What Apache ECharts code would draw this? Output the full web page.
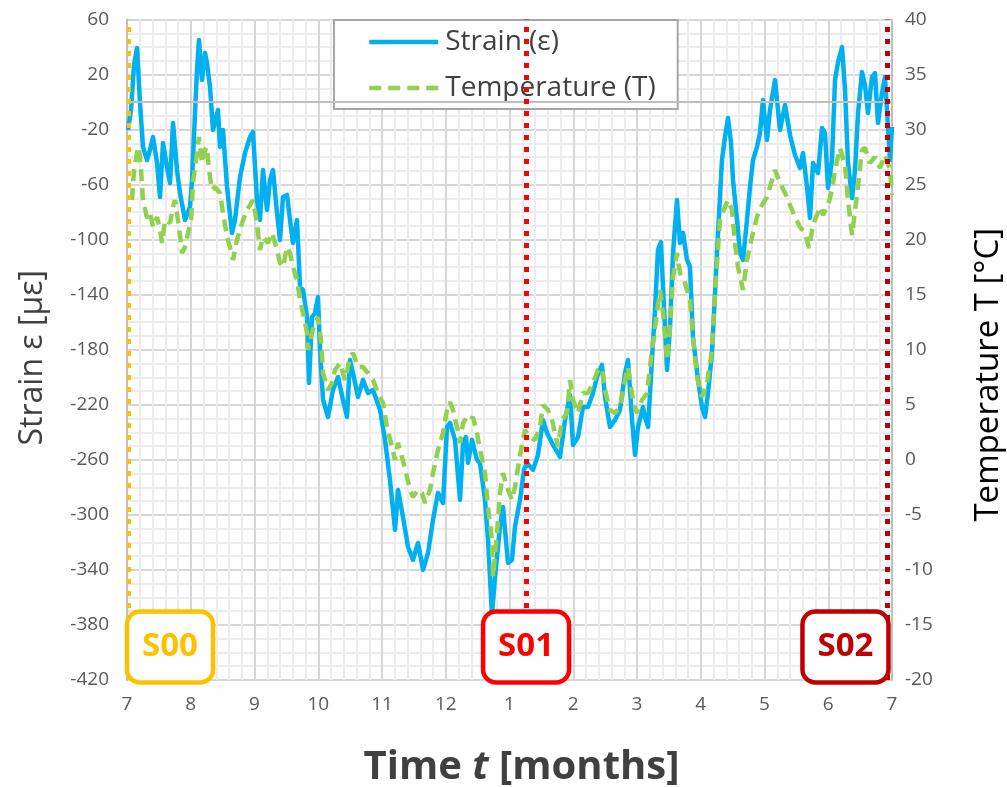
<!DOCTYPE html>
<html><head><meta charset="utf-8">
<script src="https://cdn.jsdelivr.net/npm/echarts@6/dist/echarts.min.js"></script>
<style>html,body{margin:0;padding:0;background:#fff;overflow:hidden}#c{width:1007px;height:787px}</style>
</head><body><div id="c"></div>
<script>
const monthLabels = ['7','8','9','10','11','12','1','2','3','4','5','6','7'];
const strainTime = [0.016,0.063,0.110,0.157,0.204,0.251,0.314,0.361,0.408,0.471,0.518,0.565,0.627,0.675,0.722,0.784,0.831,0.910,0.988,1.020,
1.067,1.098,1.129,1.176,1.224,1.255,1.302,1.349,1.427,1.459,1.506,1.569,1.647,1.694,1.773,1.851,1.929,1.976,2.039,2.086,
2.133,2.196,2.243,2.290,2.353,2.400,2.447,2.510,2.557,2.604,2.667,2.714,2.761,2.824,2.855,2.902,2.949,2.996,3.027,3.075,
3.153,3.231,3.310,3.388,3.451,3.498,3.545,3.624,3.702,3.780,3.859,3.969,4.047,4.125,4.204,4.251,4.329,4.408,4.486,4.565,
4.643,4.722,4.800,4.878,4.957,5.020,5.067,5.145,5.224,5.271,5.318,5.349,5.412,5.490,5.537,5.616,5.663,5.725,5.773,5.851,
5.898,5.976,6.039,6.086,6.165,6.227,6.275,6.369,6.447,6.525,6.588,6.682,6.792,6.871,6.949,6.996,7.075,7.153,7.231,7.310,
7.373,7.451,7.498,7.576,7.655,7.733,7.812,7.859,7.922,7.969,8.016,8.094,8.125,8.173,8.235,8.282,8.329,8.376,8.408,8.471,
8.518,8.565,8.627,8.675,8.722,8.784,8.831,8.878,8.957,9.020,9.067,9.114,9.176,9.224,9.271,9.333,9.380,9.427,9.475,9.506,
9.569,9.616,9.663,9.725,9.773,9.820,9.882,9.929,9.976,10.039,10.086,10.165,10.243,10.322,10.400,10.478,10.557,10.604,10.667,10.714,
10.761,10.839,10.902,10.949,10.996,11.059,11.106,11.153,11.216,11.263,11.310,11.373,11.420,11.467,11.529,11.576,11.623,11.686,11.733,11.780,
11.843,11.890,11.937,11.969,12.0];
const strainValues = [-20.3,-5.8,26.9,39.3,-0.7,-32.6,-42.1,-34.8,-25.4,-44.3,-69.0,-29.7,-47.2,-58.8,-15.2,-49.4,-66.1,-85.7,-76.2,-56.6,
-7.9,23.3,45.1,16.0,35.7,28.4,11.0,-20.3,-5.8,-32.6,-20.3,-61.7,-95.1,-85.7,-54.4,-37.0,-25.4,-21.7,-71.1,-85.7,
-49.4,-78.4,-56.6,-49.4,-80.6,-100.2,-69.0,-67.5,-85.7,-102.4,-85.7,-134.4,-136.5,-156.2,-204.1,-156.2,-153.3,-141.6,-180.1,-216.5,
-228.8,-209.2,-199.8,-216.5,-228.8,-187.4,-196.9,-214.3,-201.9,-211.4,-209.2,-223.7,-245.5,-274.6,-310.9,-281.9,-301.5,-323.3,-332.7,-320.4,
-340.0,-327.6,-303.7,-284.0,-291.3,-236.1,-233.2,-245.5,-289.1,-247.7,-243.4,-262.2,-245.5,-260.1,-262.2,-289.1,-318.2,-372.7,-345.1,-308.7,
-294.2,-334.9,-332.7,-308.7,-289.1,-267.3,-262.2,-267.3,-256.4,-231.0,-240.4,-249.2,-257.9,-231.0,-212.8,-249.2,-243.4,-221.6,-221.6,-211.4,
-199.8,-191.0,-214.3,-236.1,-231.0,-223.7,-196.9,-187.4,-231.0,-256.4,-236.1,-221.6,-228.8,-236.1,-187.4,-151.1,-107.5,-101.7,-134.4,-194.7,
-163.4,-109.7,-71.1,-102.4,-95.1,-114.7,-119.8,-170.7,-201.9,-221.6,-228.8,-211.4,-182.3,-138.7,-95.1,-42.1,-25.4,-11.6,-29.7,-56.6,
-85.7,-109.7,-114.7,-85.7,-61.7,-42.1,-32.6,-22.5,1.5,-27.6,-5.8,16.0,-20.3,-2.1,-23.9,-38.5,-47.9,-37.0,-61.7,-84.2,
-44.3,-51.5,-18.8,-22.5,-62.4,-42.1,16.0,29.1,40.0,8.8,-44.3,-69.7,-49.4,-7.9,21.9,12.4,-7.9,18.2,21.1,-15.2,
6.6,18.2,-18.1,-42.1,-18.1];
const tempTime = [0.078,0.110,0.157,0.188,0.220,0.251,0.314,0.361,0.408,0.471,0.518,0.549,0.596,0.675,0.722,0.753,0.816,0.863,0.910,0.957,
1.004,1.035,1.098,1.129,1.176,1.224,1.255,1.286,1.333,1.380,1.459,1.506,1.569,1.616,1.663,1.725,1.804,1.882,1.976,2.039,
2.086,2.133,2.212,2.275,2.353,2.400,2.447,2.510,2.557,2.604,2.667,2.714,2.761,2.824,2.839,2.902,2.949,2.996,3.043,3.075,
3.153,3.216,3.263,3.341,3.420,3.498,3.545,3.624,3.702,3.780,3.859,3.937,4.016,4.078,4.157,4.204,4.251,4.314,4.392,4.439,
4.486,4.565,4.627,4.675,4.753,4.800,4.878,4.957,5.020,5.067,5.114,5.176,5.224,5.271,5.333,5.380,5.427,5.490,5.537,5.616,
5.663,5.725,5.741,5.804,5.851,5.898,5.961,6.039,6.086,6.165,6.243,6.322,6.400,6.478,6.525,6.604,6.667,6.761,6.824,6.902,
6.949,6.996,7.075,7.153,7.231,7.310,7.388,7.451,7.498,7.576,7.655,7.733,7.812,7.859,7.937,8.000,8.078,8.157,8.235,8.314,
8.361,8.408,8.471,8.518,8.565,8.627,8.675,8.753,8.831,8.878,8.941,9.020,9.098,9.176,9.224,9.302,9.380,9.427,9.490,9.537,
9.584,9.663,9.725,9.804,9.882,9.961,10.039,10.086,10.165,10.243,10.322,10.400,10.478,10.557,10.635,10.698,10.761,10.871,10.918,10.996,
11.059,11.106,11.184,11.263,11.310,11.373,11.451,11.529,11.576,11.655,11.733,11.812,11.890,11.969,12.0];
const tempValues = [23.60,26.33,27.87,28.42,26.33,23.60,21.97,22.42,21.15,22.06,20.88,19.70,21.79,21.51,22.97,23.60,21.15,18.79,19.33,20.61,
21.79,25.15,27.87,29.33,26.96,28.15,28.42,26.33,24.51,24.78,24.24,22.42,20.24,19.33,18.15,19.97,21.51,22.69,23.60,21.51,
19.06,20.24,19.70,20.61,19.06,17.88,17.52,19.33,18.79,17.52,16.34,14.52,13.34,11.52,9.98,11.52,12.43,12.97,10.88,7.89,
6.34,6.98,8.16,8.80,7.25,9.34,9.70,8.43,8.43,7.89,7.25,6.07,5.16,2.98,1.16,-0.02,1.53,0.26,-1.56,-2.74,
-3.38,-2.74,-3.01,-3.92,-2.74,-1.20,0.89,2.44,4.53,5.25,4.53,2.98,1.53,3.34,3.89,3.62,3.89,2.44,0.89,-1.20,
-4.29,-7.28,-10.65,-6.65,-3.01,-1.20,-2.47,-3.65,-2.47,0.44,2.71,2.07,1.80,2.98,4.98,4.53,3.62,1.16,3.62,4.25,
7.25,5.43,4.25,6.07,6.07,6.98,8.16,8.34,6.34,4.53,4.25,4.80,7.25,8.43,5.43,4.25,5.43,6.07,9.98,13.34,
15.43,13.34,9.07,12.07,16.61,18.79,16.97,16.06,14.52,11.16,7.52,5.71,6.98,9.98,15.15,21.79,22.97,23.60,22.69,19.70,
17.52,15.43,18.15,20.24,22.06,23.15,23.88,24.78,26.33,25.15,24.24,23.15,22.06,21.15,20.61,19.24,21.33,22.97,22.24,23.15,
24.51,26.33,28.33,26.78,23.60,20.42,24.06,28.15,28.33,26.96,27.51,26.51,27.69,26.33,24.06];
const markerNames = ['S00','S01','S02'];
const markerTimes = [0.02, 6.26, 11.93];
const markerColors = ['#FFC000','#FF0000','#C00000'];
const markerWidths = [4, 5, 5];
const boxTimes = [0.675, 6.26, 11.27];
const boxStrain = -396;

const FONT = 'Open Sans';
const strainData = strainTime.map((t,i)=>[t, strainValues[i]]);
const tempData = tempTime.map((t,i)=>[t, tempValues[i]]);

const chart = echarts.init(document.getElementById('c'));
const gridLine = {show:true, lineStyle:{color:'#d6d6d6', width:2}};
const minorLine = {show:true, lineStyle:{color:'#ececec', width:2}};
chart.setOption({
  animation:false,
  backgroundColor:'#fff',
  textStyle:{fontFamily:FONT},
  grid:{left:127, right:115, top:19.5, bottom:107, containLabel:false, outerBoundsMode:'none'},
  legend:{
    data:['Strain (ε)','Temperature (T)'],
    orient:'vertical', left:334, top:20,
    itemWidth:69, itemHeight:14, itemGap:14,
    padding:[6,22,5,33],
    backgroundColor:'#fff', borderColor:'#a6a6a6', borderWidth:2,
    itemStyle:{opacity:0},
    lineStyle:{width:4.5},
    textStyle:{fontSize:28, color:'#404040', fontFamily:FONT, lineHeight:32, padding:[0,0,0,2]}
  },
  xAxis:{
    type:'value', min:0, max:12, interval:1,
    name:'{a|Time }{b|t}{a| [months]}', nameLocation:'middle', nameGap:68,
    nameTextStyle:{padding:[0,0,0,24], rich:{
      a:{fontSize:40, fontWeight:'bold', color:'#404040', fontFamily:FONT},
      b:{fontSize:40, fontWeight:'bold', fontStyle:'italic', color:'#404040', fontFamily:FONT}
    }},
    axisLine:{show:false}, axisTick:{show:false},
    axisLabel:{fontSize:19, color:'#595959', margin:15, fontFamily:FONT,
      formatter:v=>monthLabels[Math.round(v)]},
    splitLine:gridLine,
    minorTick:{show:false, splitNumber:5},
    minorSplitLine:minorLine
  },
  yAxis:[{
    type:'value', min:-420, max:60, interval:40,
    name:'Strain ε [µε]', nameLocation:'middle', nameGap:78, nameRotate:90,
    nameTextStyle:{fontSize:32, color:'#404040', fontFamily:FONT, padding:[0,16,0,0]},
    axisLine:{show:true, lineStyle:{color:'#bfbfbf', width:2}}, axisTick:{show:false},
    axisLabel:{fontSize:19, color:'#595959', margin:18, fontFamily:FONT},
    splitLine:gridLine,
    minorTick:{show:false, splitNumber:4},
    minorSplitLine:minorLine
  },{
    type:'value', min:-20, max:40, interval:5, position:'right',
    name:'Temperature T [°C]', nameLocation:'middle', nameGap:80, nameRotate:90,
    nameTextStyle:{fontSize:33, color:'#000', fontFamily:FONT, padding:[0,50,0,0]},
    axisLine:{show:true, lineStyle:{color:'#bfbfbf', width:2}}, axisTick:{show:false},
    axisLabel:{fontSize:19, color:'#595959', margin:13, fontFamily:FONT},
    splitLine:{show:false}
  }],
  series:[
    {type:'line', name:'zero', data:[], z:1, silent:true,
     markLine:{silent:true, symbol:'none', label:{show:false},
       data:[{yAxis:0, lineStyle:{color:'#bfbfbf', width:2, type:'solid'}}]}},
    {type:'line', name:'Strain (ε)', data:strainData, yAxisIndex:0, z:2,
     symbol:'none', showSymbol:false, smooth:false,
     lineStyle:{color:'#00B0F0', width:4.5, join:'round'}, itemStyle:{color:'#00B0F0'}},
    {type:'line', name:'Temperature (T)', data:tempData, yAxisIndex:1, z:3,
     symbol:'none', showSymbol:false,
     lineStyle:{color:'#92D050', width:4.5, type:[12,7]}, itemStyle:{color:'#92D050'}},
    {type:'line', name:'markers', data:[], z:4, silent:true,
     markLine:{silent:true, symbol:'none', label:{show:false},
       data:markerTimes.map((t,i)=>({xAxis:t, lineStyle:{color:markerColors[i], width:markerWidths[i], type:[5,7], cap:'butt'}}))}}
  ]
});

const W = 86, H = 71;
const graphics = markerNames.map((n,i)=>{
  const p = chart.convertToPixel({xAxisIndex:0, yAxisIndex:0}, [boxTimes[i], boxStrain]);
  return {
    type:'group', x:p[0], y:p[1], z:100,
    children:[
      {type:'rect', z:100, shape:{x:-W/2, y:-H/2, width:W, height:H, r:13},
       style:{fill:'#fff', stroke:markerColors[i], lineWidth:4.5}},
      {type:'text', z:101, x:0, y:0,
       style:{text:n, fill:markerColors[i], font:'bold 33px "Open Sans"', align:'center', verticalAlign:'middle'}}
    ]
  };
});
chart.setOption({graphic:graphics});
</script>
</body></html>
